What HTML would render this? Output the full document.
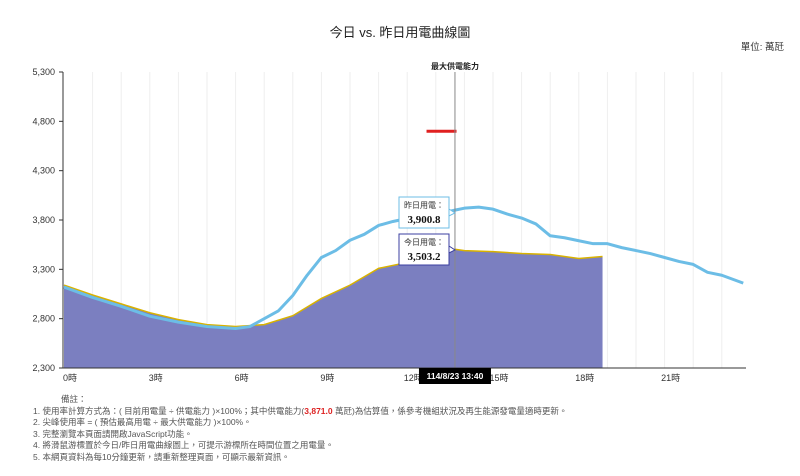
<!DOCTYPE html>
<html><head><meta charset="utf-8">
<style>
body{margin:0;width:800px;height:476px;background:#fff;overflow:hidden;font-family:"Liberation Sans","Noto Sans CJK TC",sans-serif;}
svg{position:absolute;left:0;top:0}
.notes{position:absolute;left:33px;top:394px;font-size:8.5px;color:#555;line-height:11.6px}
</style></head><body>
<svg width="800" height="476">
<text x="400" y="37" text-anchor="middle" font-size="13" fill="#222">今日 vs. 昨日用電曲線圖</text>
<text x="784" y="50" text-anchor="end" font-size="9.5" fill="#333">單位: 萬瓩</text>
<g id="grid"></g><g id="series"></g><g id="axes"></g>
</svg>
<div class="notes">
<div style="padding-left:28px">備註：</div>
<div>1. 使用率計算方式為：( 目前用電量 ÷ 供電能力 )×100%；其中供電能力(<span style="color:#d22;font-weight:bold">3,871.0</span> 萬瓩)為估算值，係參考機組狀況及再生能源發電量適時更新。</div>
<div>2. 尖峰使用率 = ( 預估最高用電 ÷ 最大供電能力 )×100%。</div>
<div>3. 完整瀏覽本頁面請開啟JavaScript功能。</div>
<div>4. 將滑鼠游標置於今日/昨日用電曲線圖上，可提示游標所在時間位置之用電量。</div>
<div>5. 本網頁資料為每10分鐘更新，請重新整理頁面，可顯示最新資訊。</div>
</div>
<script>
const yTicks=[2300,2800,3300,3800,4300,4800,5300];
const xHours=[0,3,6,9,12,15,18,21];
const yHoursY=[0,1,2,3,4,5,5.5,6,6.5,7,7.5,8,8.5,9,9.5,10,10.5,11,11.5,12,12.5,13,13.67,14,14.5,15,15.5,16,16.5,17,17.5,18,18.5,19,19.5,20,20.5,21,21.5,22,22.5,23,23.75];
const yesterday=[3120,3015,2925,2825,2765,2720,2710,2700,2720,2800,2880,3035,3240,3420,3490,3595,3655,3745,3785,3815,3835,3855,3900,3920,3930,3910,3860,3820,3760,3640,3620,3590,3560,3560,3520,3490,3460,3420,3380,3350,3270,3240,3160];
const todayHours=[0,1,2,3,4,5,6,7,8,9,10,11,12,13,13.67,14,15,16,17,18,18.83];
const today=[3140,3040,2950,2860,2790,2740,2720,2740,2830,3005,3140,3310,3370,3430,3503,3490,3480,3460,3450,3410,3430];
const maxSupplyHour=13.2, maxSupply=4700, cursorHour=13.67;
const X0=64,HW=28.6,Y0=368,PX=296/3000;
const xs=h=>X0+h*HW, ys=v=>Y0-(v-2300)*PX;
const NS='http://www.w3.org/2000/svg';
function mk(t,a,p){const e=document.createElementNS(NS,t);for(const k in a)e.setAttribute(k,a[k]);p.appendChild(e);return e;}
const grid=document.getElementById('grid'),ser=document.getElementById('series'),ax=document.getElementById('axes');
for(let h=1;h<24;h++){const l=mk('line',{x1:xs(h),x2:xs(h),y1:72,y2:368,stroke:'#eee'},grid);

}
// today area
let d='M'+xs(todayHours[0])+','+Y0;
todayHours.forEach((h,i)=>d+=' L'+xs(h)+','+ys(today[i]));
d+=' L'+xs(todayHours[todayHours.length-1])+','+Y0+'Z';
const area=mk('path',{d:d,fill:'#7b7fc0'},ser);


const tl=mk('polyline',{points:todayHours.map((h,i)=>xs(h)+','+ys(today[i])).join(' '),fill:'none',stroke:'#d9b200','stroke-width':1.5},ser);


const yl=mk('polyline',{points:yHoursY.map((h,i)=>xs(h)+','+ys(yesterday[i])).join(' '),fill:'none',stroke:'#6cbde6','stroke-width':3,'stroke-linejoin':'round'},ser);


const ms=mk('line',{x1:xs(maxSupplyHour)-15,x2:xs(maxSupplyHour)+15,y1:ys(maxSupply),y2:ys(maxSupply),stroke:'#e02020','stroke-width':3},ser);


const cx=xs(cursorHour);
const cl=mk('line',{x1:cx,x2:cx,y1:72,y2:368,stroke:'#888'},ser);


const mt=mk('text',{x:cx,y:69,'text-anchor':'middle','font-size':8,'font-weight':'bold',fill:'#222'},ser);mt.textContent='最大供電能力';


// axes
const yaxis=mk('line',{x1:63,x2:63,y1:72,y2:368,stroke:'#333'},ax);


const xaxis=mk('line',{x1:63,x2:746,y1:368,y2:368,stroke:'#333'},ax);


yTicks.forEach(v=>{const t=mk('text',{x:55,y:ys(v)+3,'text-anchor':'end','font-size':9,fill:'#333'},ax);t.textContent=v.toLocaleString('en-US');


mk('line',{x1:59,x2:63,y1:ys(v),y2:ys(v),stroke:'#333'},ax);});
xHours.forEach(h=>{const t=mk('text',{x:xs(h)+6,y:381,'text-anchor':'middle','font-size':9,fill:'#333'},ax);t.textContent=h+'時';

});
// tooltips
function tip(y,label,val,border,name){const g=mk('g',{},ax);


mk('rect',{x:399,y:y,width:50,height:31,fill:'#fff',stroke:border},g);
mk('path',{d:`M449,${y+12} L455,${y+16} L449,${y+19}Z`,fill:'#fff',stroke:border},g);
const a=mk('text',{x:424,y:y+11,'text-anchor':'middle','font-size':8,fill:'#333'},g);a.textContent=label;
const b=mk('text',{x:424,y:y+26,'text-anchor':'middle','font-size':11,'font-weight':'bold','font-family':'Liberation Serif',fill:'#111'},g);b.textContent=val;}
tip(197,'昨日用電：','3,900.8','#6cbde6','yesterday-tooltip');
tip(234,'今日用電：','3,503.2','#3b3fa0','today-tooltip');
const xb=mk('g',{},ax);


mk('rect',{x:cx-36,y:368,width:72,height:16,fill:'#000'},xb);
const xt=mk('text',{x:cx,y:379,'text-anchor':'middle','font-size':8.5,'font-weight':'bold',fill:'#fff'},xb);xt.textContent='114/8/23 13:40';
</script>
</body></html>
